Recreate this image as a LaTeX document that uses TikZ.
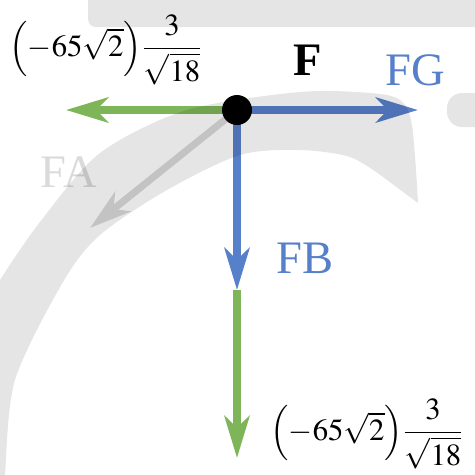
\documentclass[tikz,border=0pt]{standalone}
\usepackage{amsmath}
\usepackage{mathptmx}
\usepackage{fontspec}
\setmainfont{Liberation Serif}
\usepackage{tikz}
\usetikzlibrary{arrows.meta}
\usepackage{xcolor}
\definecolor{fblue}{HTML}{5780CA}
\definecolor{fgreen}{HTML}{7EB559}
\definecolor{fgray}{HTML}{DADADA}

\tikzset{
    force/.style={line width=1.6mm, -{Stealth[length=8.4mm, width=5mm, inset=2.4mm]}},
    lbl/.style={inner sep=0pt, font=\fontsize{26.5}{30}\selectfont},
    frm/.style={inner sep=0pt, font=\fontsize{17.5}{21}\selectfont},
    shade/.style={fill=black, fill opacity=0.1},
}

\begin{document}
\begin{tikzpicture}[x=0.02cm, y=-0.02cm]
    \useasboundingbox (0, 0) rectangle (475, 474);

    % 作用点与各力的终点
    \coordinate (F) at (237, 110);
    \coordinate (G) at (418, 110);
    \coordinate (L) at (66, 110);
    \coordinate (A) at (90, 228);
    \coordinate (B) at (237, 290);
    \coordinate (D) at (237, 458);

    % 力
    \draw[force, fgray, line width=1.4mm] (F) -- (A);
    \draw[force, fgreen] (F) -- (L);
    \draw[force, fblue] (F) -- (G);
    \draw[force, fblue] (F) -- (B);
    \draw[force, fgreen] (B) -- (D);

    % 点
    \node[circle, fill=black, minimum size=0.6cm, inner sep=0pt] (dot) at (F) {};

    % 标签
    \node[lbl, font=\bfseries\fontsize{26.5}{30}\selectfont] (lF) at (308, 60) {F};
    \node[lbl, fblue] (lG) at (415, 70) {FG};
    \node[lbl, fblue] (lB) at (305, 258) {FB};
    \node[lbl, fgray] (lA) at (69, 172) {FA};
    \node[frm] (fL) at (106, 50) {$\Bigl(-65\sqrt{2}\Bigr)\dfrac{3}{\sqrt{18}}$};
    \node[frm] (fD) at (367, 434) {$\Bigl(-65\sqrt{2}\Bigr)\dfrac{3}{\sqrt{18}}$};

    % 背景
    \fill[shade, rounded corners=1.6mm] (88, -10) rectangle (490, 27);
    \fill[shade, rounded corners=3mm] (447, 93) rectangle (500, 127);
    \fill[shade] plot[smooth] coordinates {(-10, 300) (0, 280) (40, 222) (100, 153) (187, 110)
        (300, 92) (370, 93) (400, 100) (412, 125) (418, 203)}
        -- plot[smooth] coordinates {(383, 177) (350, 157) (300, 150) (240, 155) (167, 190)
        (100, 235) (63, 282) (15, 380) (5, 474) (5, 480)}
        -- (-10, 480) -- cycle;
\end{tikzpicture}
\end{document}
